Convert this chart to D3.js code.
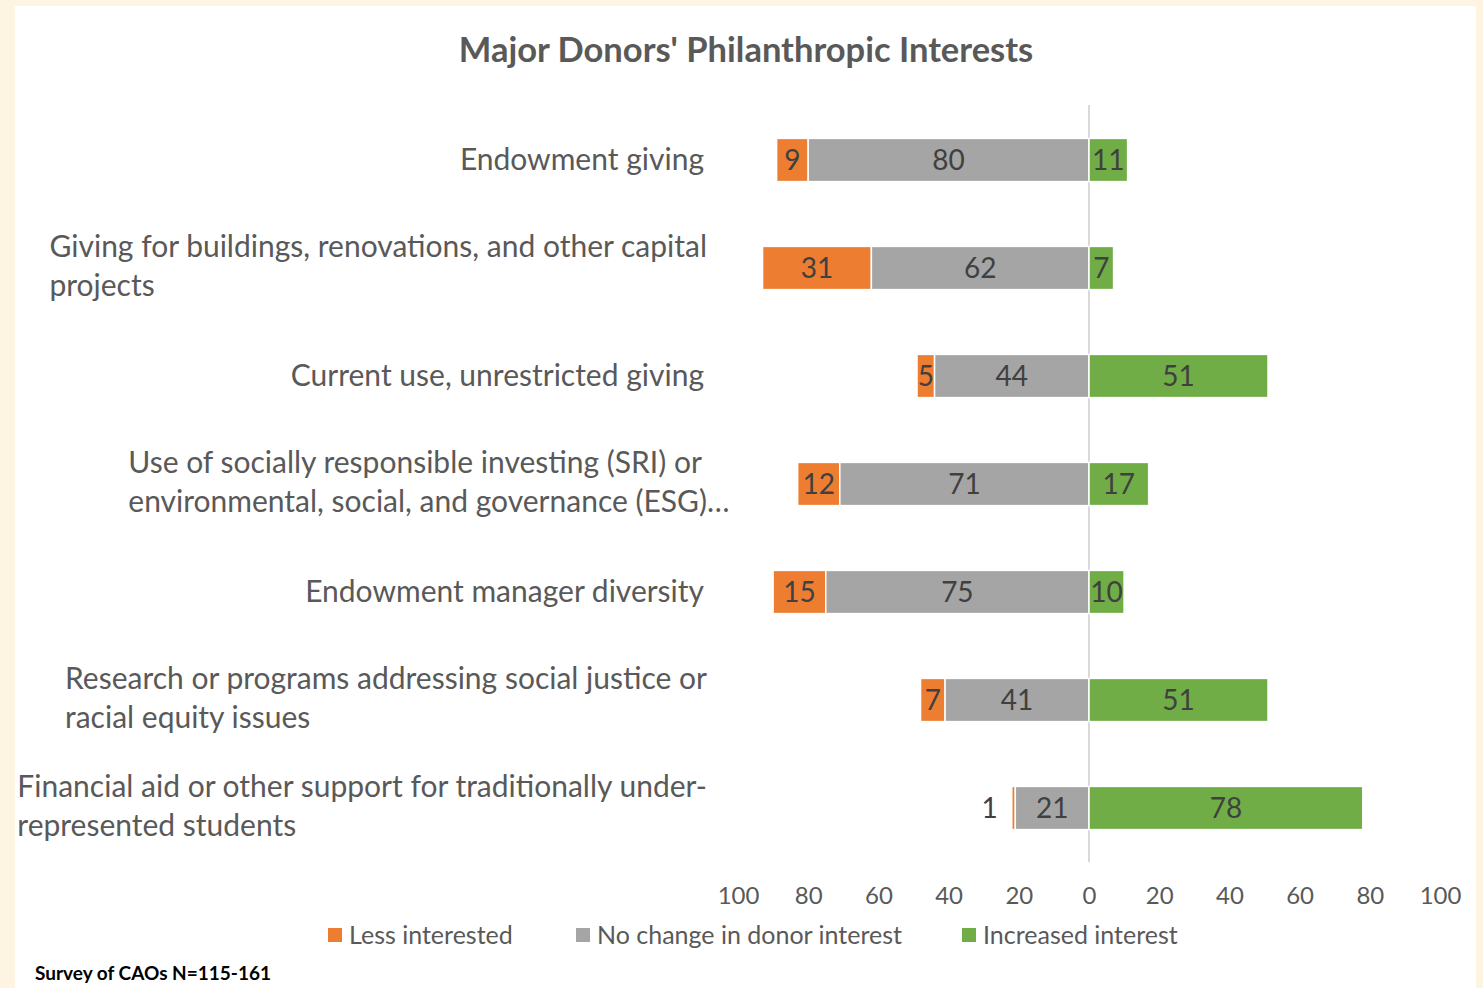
<!DOCTYPE html>
<html>
<head>
<meta charset="utf-8">
<script src="https://cdn.jsdelivr.net/npm/d3@7/dist/d3.min.js"></script>
<style>
  html, body { margin: 0; padding: 0; background: #FEF4E2; }
  svg { display: block; }
</style>
</head>
<body>
<svg id="chart" width="1483" height="988"></svg>
<script>
// Category labels (line breaks as shown on the axis)
const categories = [
  "Endowment giving",
  "Giving for buildings, renovations, and other capital\nprojects",
  "Current use, unrestricted giving",
  "Use of socially responsible investing (SRI) or\nenvironmental, social, and governance (ESG)…",
  "Endowment manager diversity",
  "Research or programs addressing social justice or\nracial equity issues",
  "Financial aid or other support for traditionally under-\nrepresented students"
];
const lessInterested = [9, 31, 5, 12, 15, 7, 1];
const noChange       = [80, 62, 44, 71, 75, 41, 21];
const increased      = [11, 7, 51, 17, 10, 51, 78];
const seriesNames  = ["Less interested", "No change in donor interest", "Increased interest"];
const seriesColors = ["#ED7D31", "#A5A5A5", "#70AD47"];
const tickValues = [-100, -80, -60, -40, -20, 0, 20, 40, 60, 80, 100];

const FONT = "Lato, 'Open Sans', sans-serif";
const svg = d3.select("#chart");

// white panel
svg.append("rect").attr("x", 15).attr("y", 6).attr("width", 1461).attr("height", 990).attr("fill", "#ffffff");

// title
svg.append("text")
  .attr("x", 746).attr("y", 62)
  .attr("text-anchor", "middle")
  .attr("font-family", FONT).attr("font-weight", 700).attr("font-size", 34.5)
  .attr("fill", "#595959")
  .text("Major Donors' Philanthropic Interests");

const x = d3.scaleLinear().domain([-100, 100]).range([738, 1440]);
const y = d3.scaleBand().domain(d3.range(categories.length)).range([106, 862]).paddingInner(0.6).paddingOuter(0.3);

// stacked segments: less and no-change to the left of zero, increased to the right
const rows = categories.map((c, i) => {
  const l = lessInterested[i], n = noChange[i], g = increased[i];
  return [
    { s: 0, x0: -(l + n), x1: -n, v: l, i },
    { s: 1, x0: -n, x1: 0, v: n, i },
    { s: 2, x0: 0, x1: g, v: g, i }
  ];
}).flat();

// zero line
svg.append("line")
  .attr("x1", x(0)).attr("x2", x(0))
  .attr("y1", 105).attr("y2", 862)
  .attr("stroke", "#D9D9D9").attr("stroke-width", 2);

svg.append("g").selectAll("rect").data(rows).join("rect")
  .attr("x", d => x(d.x0))
  .attr("y", d => y(d.i))
  .attr("width", d => x(d.x1) - x(d.x0))
  .attr("height", y.bandwidth())
  .attr("fill", d => seriesColors[d.s])
  .attr("stroke", "#ffffff").attr("stroke-width", 1.5);

// value labels (segments too narrow for text get their label outside, to the left)
const narrow = d => (x(d.x1) - x(d.x0)) < 12;
svg.append("g").selectAll("text").data(rows).join("text")
  .attr("x", d => narrow(d) ? x(d.x0) - 14 : (x(d.x0) + x(d.x1)) / 2)
  .attr("y", d => y(d.i) + y.bandwidth() / 2 + 10)
  .attr("text-anchor", d => narrow(d) ? "end" : "middle")
  .attr("font-family", FONT).attr("font-size", 28)
  .attr("fill", "#404040")
  .text(d => d.v);

// category labels: wrapped blocks are left-aligned and sit against the axis;
// a truncation ellipsis is allowed to run past the block edge
const labelG = svg.append("g").attr("font-family", FONT).attr("font-size", 30).attr("fill", "#595959");
const measure = labelG.append("text").attr("visibility", "hidden");
const textWidth = s => { measure.text(s); return measure.node().getComputedTextLength(); };
categories.forEach((c, i) => {
  const lines = c.split("\n");
  const cy = y(i) + y.bandwidth() / 2;
  const lh = 39;
  const t = labelG.append("text");
  if (lines.length === 1) {
    t.attr("x", 704).attr("y", cy + 10).attr("text-anchor", "end").text(lines[0]);
  } else {
    const w = d3.max(lines, ln => textWidth(ln.replace(/…$/, "")));
    lines.forEach((ln, k) => {
      t.append("tspan").attr("x", 707 - w).attr("y", cy - lh / 2 + k * lh + 8).text(ln);
    });
  }
});
measure.remove();

// axis
const axis = d3.axisBottom(x).tickValues(tickValues).tickFormat(d => Math.abs(d)).tickSize(0).tickPadding(0);
const ag = svg.append("g").attr("transform", "translate(0,887)").call(axis);
ag.select(".domain").remove();
ag.selectAll("text").attr("font-family", FONT).attr("font-size", 24).attr("fill", "#595959").attr("dy", "0.7em");

// legend
const legendX = [328, 576, 962];
const lg = svg.append("g").attr("font-family", FONT).attr("font-size", 25).attr("fill", "#595959");
seriesNames.forEach((n, k) => {
  lg.append("rect").attr("x", legendX[k]).attr("y", 928).attr("width", 14).attr("height", 14).attr("fill", seriesColors[k]);
  lg.append("text").attr("x", legendX[k] + 21).attr("y", 944).text(n);
});

// footnote
svg.append("text")
  .attr("x", 35).attr("y", 980)
  .attr("font-family", FONT).attr("font-weight", 700).attr("font-size", 19)
  .attr("fill", "#000000")
  .text("Survey of CAOs N=115-161");
</script>
</body>
</html>
